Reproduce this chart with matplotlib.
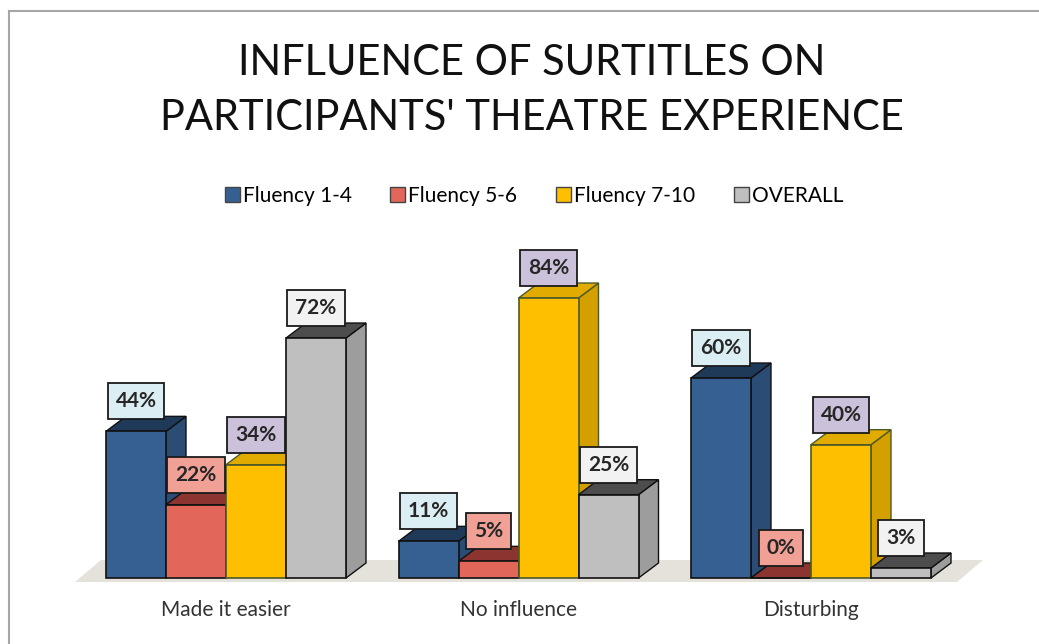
import matplotlib.pyplot as plt
from matplotlib.patches import Polygon, Patch
from matplotlib.lines import Line2D

plt.rcParams['font.family'] = ['Lato', 'DejaVu Sans']

# Data
categories = ['Made it easier', 'No influence', 'Disturbing']
series = ['Fluency 1-4', 'Fluency 5-6', 'Fluency 7-10', 'OVERALL']
values = {
    'Fluency 1-4': [44, 11, 60],
    'Fluency 5-6': [22, 5, 0],
    'Fluency 7-10': [34, 84, 40],
    'OVERALL': [72, 25, 3],
}
labels = {
    'Fluency 1-4': ['44%', '11%', '60%'],
    'Fluency 5-6': ['22%', '5%', '0%'],
    'Fluency 7-10': ['34%', '84%', '40%'],
    'OVERALL': ['72%', '25%', '3%'],
}

# Styles: front, side, top, edge, label box
styles = {
    'Fluency 1-4': ('#376092', '#2b4c74', '#1f3958', '#111111', '#dbeef4'),
    'Fluency 5-6': ('#e2675a', '#b4504a', '#8c3530', '#111111', '#f0a095'),
    'Fluency 7-10': ('#fdbf00', '#d3a000', '#e2ab00', '#4c5a28', '#ccc1da'),
    'OVERALL': ('#bfbfbf', '#9d9d9d', '#4d4d4d', '#111111', '#f2f2f2'),
}

W, H = 1039, 644
fig = plt.figure(figsize=(W / 100, H / 100), dpi=100)
ax = fig.add_axes([0, 0, 1, 1])
px_x = 292.5   # pixels per category unit
px_y = 3.333   # pixels per percent
x0_px, base_px = 226, 578
ax.set_xlim(-x0_px / px_x, (W - x0_px) / px_x)
ax.set_ylim(-(H - base_px) / px_y, base_px / px_y)
ax.axis('off')

bw = 60 / px_x
dx = 20 / px_x
dy = 15 / px_y

# floor
fl, fr = (75 - x0_px) / px_x, (957 - x0_px) / px_x
fd = 26 / px_x
ax.add_patch(Polygon([(fl, -1.2), (fr, -1.2), (fr + fd, 5.4), (fl + fd, 5.4)],
                     closed=True, facecolor='#e4e2db', edgecolor='none', zorder=1))

offsets = [-1.5, -0.5, 0.5, 1.5]
z = 2
for gi in range(len(categories)):
    for si, s in enumerate(series):
        front, side, top, edge, lbox = styles[s]
        h = values[s][gi]
        xl = gi + offsets[si] * bw - bw / 2
        xr = xl + bw
        ax.add_patch(Polygon([(xr, 0), (xr + dx, dy), (xr + dx, h + dy), (xr, h)],
                             closed=True, facecolor=side, edgecolor=edge, lw=1, zorder=z))
        ax.add_patch(Polygon([(xl, h), (xr, h), (xr + dx, h + dy), (xl + dx, h + dy)],
                             closed=True, facecolor=top, edgecolor=edge, lw=1, zorder=z))
        ax.bar(xl, h, width=bw, align='edge', color=front, edgecolor=edge, lw=1.2, zorder=z + 0.5)
        z += 1

for gi in range(len(categories)):
    for si, s in enumerate(series):
        lbox = styles[s][4]
        h = values[s][gi]
        xc = gi + offsets[si] * bw
        ax.text(xc, h + 9, labels[s][gi], ha='center', va='center', fontsize=15,
                fontweight='bold', color='#262626', zorder=100,
                bbox=dict(boxstyle='square,pad=0.38', facecolor=lbox, edgecolor='#1a1a1a', lw=1.3))

for gi, c in enumerate(categories):
    ax.text(gi, -9.6, c, ha='center', va='center', fontsize=15, color='#333333')

# title
fig.text(532 / W, 1 - 63 / H, 'INFLUENCE OF SURTITLES ON', ha='center', va='center',
         fontsize=30, color='#111111')
fig.text(532 / W, 1 - 118 / H, "PARTICIPANTS' THEATRE EXPERIENCE", ha='center', va='center',
         fontsize=30, color='#111111')

handles = [Patch(facecolor=styles[s][0], edgecolor='#444444', lw=1) for s in series]
fig.legend(handles, series, loc='center', bbox_to_anchor=(534 / W, 1 - 196 / H), ncol=4,
           frameon=False, fontsize=15, handlelength=0.72, handleheight=0.72,
           handletextpad=0.15, columnspacing=1.85)

# outer frame
fig.add_artist(Line2D([9 / W, 1], [1 - 11 / H, 1 - 11 / H], color='#a6a6a6', lw=1.5))
fig.add_artist(Line2D([9 / W, 9 / W], [0, 1 - 11 / H], color='#a6a6a6', lw=1.5))

fig.savefig('out.png', dpi=100)
